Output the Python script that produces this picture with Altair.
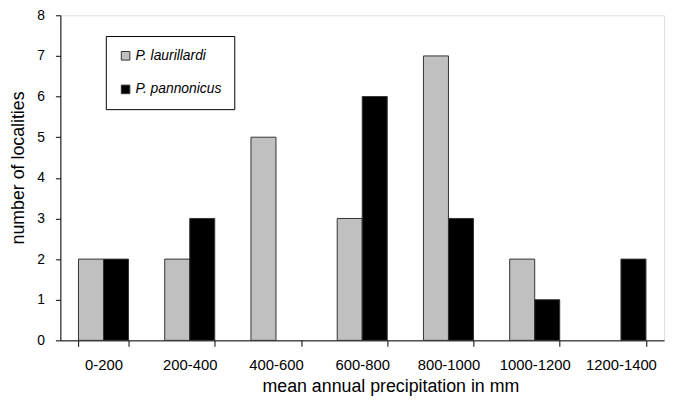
import altair as alt
import pandas as pd

categories = ["0-200", "200-400", "400-600", "600-800", "800-1000", "1000-1200", "1200-1400"]
laurillardi = [2, 2, 5, 3, 7, 2, 0]
pannonicus = [2, 3, 0, 6, 3, 1, 2]
species = ["P. laurillardi", "P. pannonicus"]

rows = []
for c, a, b in zip(categories, laurillardi, pannonicus):
    rows.append({"cat": c, "species": species[0], "n": a})
    rows.append({"cat": c, "species": species[1], "n": b})
df = pd.DataFrame(rows)

FONT = "Liberation Sans"

chart = alt.Chart(df).transform_filter("datum.n > 0").mark_bar(stroke="#333333", strokeWidth=1).encode(
    x=alt.X("cat:N", sort=categories,
            scale=alt.Scale(domain=categories, paddingInner=0.42, paddingOuter=0.21),
            axis=alt.Axis(title="mean annual precipitation in mm", labelAngle=0,
                          tickBand="extent", tickSize=6, tickColor="black",
                          domainColor="black", labelFontSize=15, titleFontSize=18,
                          labelPadding=11, titlePadding=6, titleX=334, labelColor="black",
                          titleColor="black", titleFontWeight="normal", labelFont=FONT, titleFont=FONT)),
    xOffset=alt.XOffset("species:N", sort=species, scale=alt.Scale(domain=species)),
    y=alt.Y("n:Q", scale=alt.Scale(domain=[0, 8]),
            axis=alt.Axis(title="number of localities", values=list(range(9)), grid=False,
                          tickSize=5, tickColor="black", domainColor="black",
                          labelFontSize=14, titleFontSize=18, labelPadding=11, titlePadding=10,
                          titleY=154, titleX=-33,
                          labelColor="black", titleColor="black", titleFontWeight="normal",
                          labelFont=FONT, titleFont=FONT)),
    color=alt.Color("species:N", sort=species,
                    scale=alt.Scale(domain=species, range=["#c0c0c0", "#000000"]),
                    legend=alt.Legend(title=None, orient="none", legendX=46, legendY=21,
                                      strokeColor="black", padding=13, rowPadding=20,
                                      symbolType="square", symbolSize=75, labelOffset=3,
                                      symbolStrokeColor="#333333", symbolStrokeWidth=1,
                                      labelFontStyle="italic", labelFontSize=14,
                                      labelFont=FONT, labelColor="black",
                                      labelLimit=200, offset=0, cornerRadius=0)),
).properties(
    width=611, height=329,
    autosize=alt.AutoSizeParams(type="none"),
    padding={"left": 53, "top": 5, "right": 6, "bottom": 60},
).configure_view(
    stroke="#999999", strokeWidth=1
).configure(background="white")

chart.save("out.html", embed_options={"renderer": "svg", "actions": False})
